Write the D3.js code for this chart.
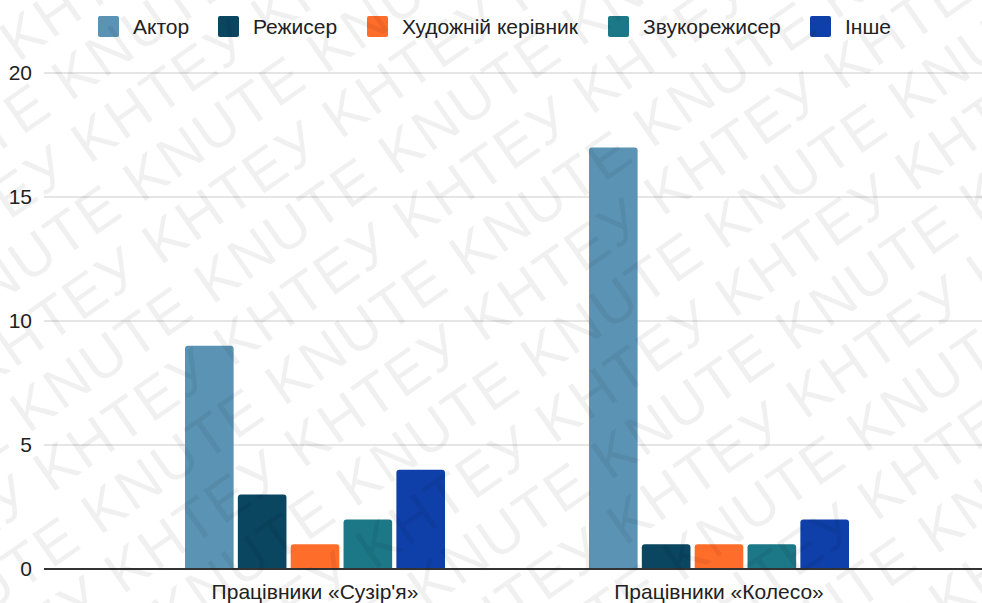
<!DOCTYPE html>
<html><head><meta charset="utf-8">
<script src="https://cdn.jsdelivr.net/npm/d3@7"></script>
<style>
html,body{margin:0;padding:0;background:#fff;}
svg{display:block;font-family:"Liberation Sans",Arial,sans-serif;}
</style></head>
<body><svg id="c" width="982" height="603"></svg>
<script>
const categories = ["Працівники «Сузір'я»", "Працівники «Колесо»"];
const seriesNames = ["Актор", "Режисер", "Художній керівник", "Звукорежисер", "Інше"];
const seriesColors = ["#5b93b4", "#0b4660", "#ff6d2b", "#1c7886", "#0f3fa8"];
const valuesSuzirya = [9, 3, 1, 2, 4];
const valuesKoleso = [17, 1, 1, 1, 2];
const yTicks = [0, 5, 10, 15, 20];
const watermarkWords = ["KNUTE", "KHTEУ"];

const data = categories.map((c, i) => ({cat: c, vals: [valuesSuzirya, valuesKoleso][i]}));

const svg = d3.select("#c");
const plotL = 44, plotR = 982;
const y = d3.scaleLinear().domain([0, 20]).range([569, 73]);
const x0 = d3.scaleBand().domain(categories).range([113, 921]);
const x1 = d3.scaleBand().domain(seriesNames).range([72, 332]).paddingInner(0.08);
const color = d3.scaleOrdinal().domain(seriesNames).range(seriesColors);

// gridlines
svg.append("g").selectAll("line").data(yTicks.filter(t => t > 0)).join("line")
  .attr("x1", plotL).attr("x2", plotR)
  .attr("y1", d => y(d)).attr("y2", d => y(d))
  .attr("stroke", "#cccccc").attr("stroke-width", 1.2);

// y labels
svg.append("g").selectAll("text").data(yTicks).join("text")
  .attr("x", 32).attr("y", d => y(d)).attr("dy", "0.35em")
  .attr("text-anchor", "end").attr("font-size", 21).attr("fill", "#222")
  .text(d => d);

function topRounded(x, yy, w, h, r) {
  r = Math.min(r, h, w / 2);
  return `M${x},${yy + h}V${yy + r}Q${x},${yy} ${x + r},${yy}H${x + w - r}Q${x + w},${yy} ${x + w},${yy + r}V${yy + h}Z`;
}
const groups = svg.append("g").selectAll("g").data(data).join("g")
  .attr("transform", d => `translate(${x0(d.cat)},0)`);
groups.selectAll("path").data(d => d.vals.map((v, i) => ({name: seriesNames[i], v})))
  .join("path")
  .attr("fill", d => color(d.name))
  .attr("d", d => topRounded(x1(d.name), y(d.v), x1.bandwidth(), y(0) - y(d.v), 3));

// baseline
svg.append("line").attr("x1", plotL).attr("x2", plotR)
  .attr("y1", y(0)).attr("y2", y(0)).attr("stroke", "#333").attr("stroke-width", 2);

// category labels
svg.append("g").selectAll("text").data(categories).join("text")
  .attr("x", d => x0(d) + x0.bandwidth() / 2).attr("y", 592).attr("dy", "0.35em")
  .attr("text-anchor", "middle").attr("font-size", 21).attr("fill", "#222")
  .text(d => d);

// legend
const legendX = [98, 218, 367, 608, 810];
const lg = svg.append("g").selectAll("g").data(seriesNames).join("g")
  .attr("transform", (d, i) => `translate(${legendX[i]},16)`);
lg.append("rect").attr("width", 21).attr("height", 21).attr("rx", 2).attr("fill", d => color(d));
lg.append("text").attr("x", 35).attr("y", 10.5).attr("dy", "0.35em")
  .attr("font-size", 21).attr("fill", "#222").text(d => d);

// watermark
const wm = svg.append("g").attr("pointer-events", "none")
  .attr("transform", "rotate(-35)");
const rows = d3.range(-6, 26);
wm.selectAll("text").data(rows).join("text")
  .attr("x", -900).attr("y", d => d * 62)
  .attr("font-size", 58).attr("fill", "#000").attr("fill-opacity", 0.06)
  .attr("letter-spacing", 2)
  .text(d => {
    const w = watermarkWords[((d % 2) + 2) % 2];
    return d3.range(16).map(() => w).join(" ");
  });
</script></body></html>
